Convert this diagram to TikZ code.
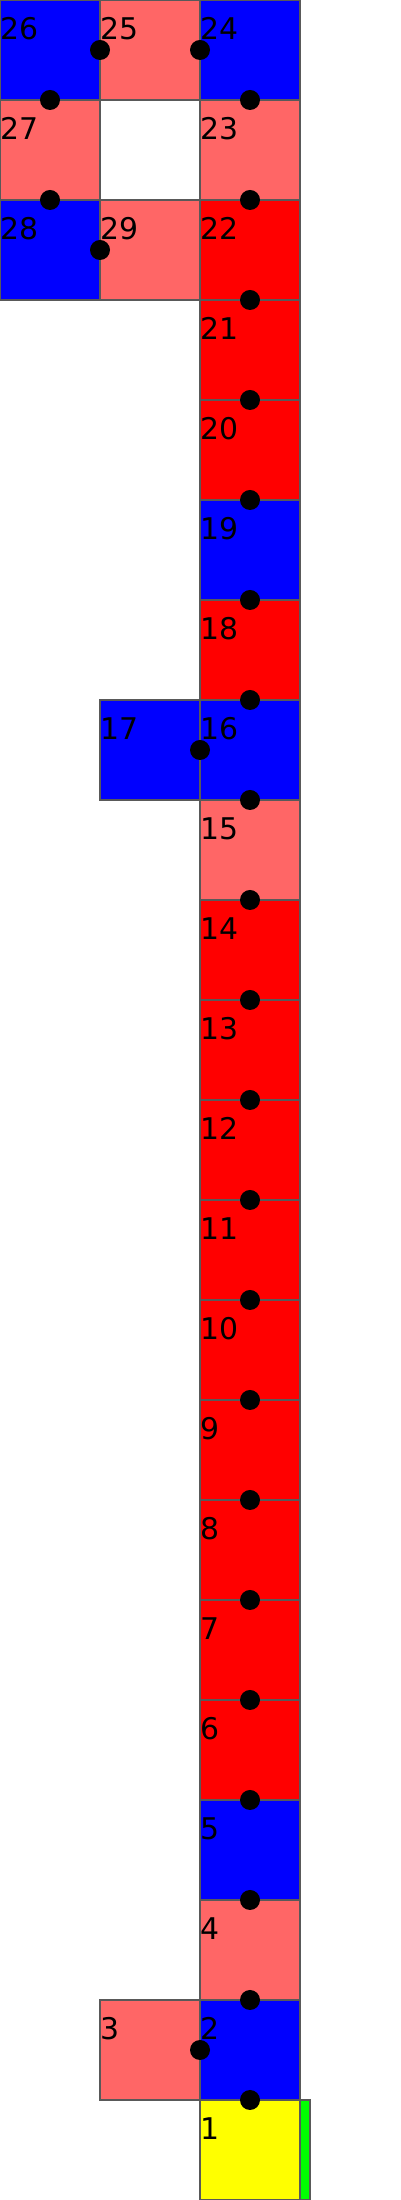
\documentclass[tikz,border=0pt]{standalone}
\usepackage{fontspec}
\setmainfont{DejaVu Sans}
\usepackage{tikz}
\usetikzlibrary{arrows,positioning,shapes}

\definecolor{lightred}{HTML}{FF6666}
\definecolor{cellyellow}{RGB}{255,255,0}
\definecolor{cellgreen}{RGB}{0,255,0}

\begin{document}
\begin{tikzpicture}[
    cell/.style={draw=black!65, line width=0.4pt, rectangle, minimum width=1cm, minimum height=1cm, inner sep=0pt, outer sep=0pt},
    num/.style={anchor=base west, inner sep=0pt, yshift=-4mm, font=\fontsize{8.5}{10}\selectfont},
    joint/.style={circle, fill=black, minimum size=2mm, inner sep=0pt}
]
    \useasboundingbox (0, 0) rectangle (4, 22);

    % Main column
    \node[cell, fill=cellyellow, label={[num]north west:1}] (c1) at (2.5, 0.5) {};
    \node[cell, fill=blue, label={[num]north west:2}] (c2) at (2.5, 1.5) {};
    \node[cell, fill=lightred, label={[num]north west:3}] (c3) at (1.5, 1.5) {};
    \node[cell, fill=lightred, label={[num]north west:4}] (c4) at (2.5, 2.5) {};
    \node[cell, fill=blue, label={[num]north west:5}] (c5) at (2.5, 3.5) {};
    \node[cell, fill=red, label={[num]north west:6}] (c6) at (2.5, 4.5) {};
    \node[cell, fill=red, label={[num]north west:7}] (c7) at (2.5, 5.5) {};
    \node[cell, fill=red, label={[num]north west:8}] (c8) at (2.5, 6.5) {};
    \node[cell, fill=red, label={[num]north west:9}] (c9) at (2.5, 7.5) {};
    \node[cell, fill=red, label={[num]north west:10}] (c10) at (2.5, 8.5) {};
    \node[cell, fill=red, label={[num]north west:11}] (c11) at (2.5, 9.5) {};
    \node[cell, fill=red, label={[num]north west:12}] (c12) at (2.5, 10.5) {};
    \node[cell, fill=red, label={[num]north west:13}] (c13) at (2.5, 11.5) {};
    \node[cell, fill=red, label={[num]north west:14}] (c14) at (2.5, 12.5) {};
    \node[cell, fill=lightred, label={[num]north west:15}] (c15) at (2.5, 13.5) {};
    \node[cell, fill=blue, label={[num]north west:16}] (c16) at (2.5, 14.5) {};
    \node[cell, fill=blue, label={[num]north west:17}] (c17) at (1.5, 14.5) {};
    \node[cell, fill=red, label={[num]north west:18}] (c18) at (2.5, 15.5) {};
    \node[cell, fill=blue, label={[num]north west:19}] (c19) at (2.5, 16.5) {};
    \node[cell, fill=red, label={[num]north west:20}] (c20) at (2.5, 17.5) {};
    \node[cell, fill=red, label={[num]north west:21}] (c21) at (2.5, 18.5) {};
    \node[cell, fill=red, label={[num]north west:22}] (c22) at (2.5, 19.5) {};
    \node[cell, fill=lightred, label={[num]north west:23}] (c23) at (2.5, 20.5) {};

    % Top loop
    \node[cell, fill=blue, label={[num]north west:24}] (c24) at (2.5, 21.5) {};
    \node[cell, fill=lightred, label={[num]north west:25}] (c25) at (1.5, 21.5) {};
    \node[cell, fill=blue, label={[num]north west:26}] (c26) at (0.5, 21.5) {};
    \node[cell, fill=lightred, label={[num]north west:27}] (c27) at (0.5, 20.5) {};
    \node[cell, fill=blue, label={[num]north west:28}] (c28) at (0.5, 19.5) {};
    \node[cell, fill=lightred, label={[num]north west:29}] (c29) at (1.5, 19.5) {};

    % Green bar
    \node[cell, fill=cellgreen, minimum width=1mm] (bar) at (3.05, 0.5) {};

    % Joints
    \node[joint] (j1) at (c1.north) {};
    \node[joint] (j2) at (c2.west) {};
    \node[joint] (j3) at (c2.north) {};
    \node[joint] (j4) at (c4.north) {};
    \node[joint] (j5) at (c5.north) {};
    \node[joint] (j6) at (c6.north) {};
    \node[joint] (j7) at (c7.north) {};
    \node[joint] (j8) at (c8.north) {};
    \node[joint] (j9) at (c9.north) {};
    \node[joint] (j10) at (c10.north) {};
    \node[joint] (j11) at (c11.north) {};
    \node[joint] (j12) at (c12.north) {};
    \node[joint] (j13) at (c13.north) {};
    \node[joint] (j14) at (c14.north) {};
    \node[joint] (j15) at (c15.north) {};
    \node[joint] (j16) at (c16.west) {};
    \node[joint] (j17) at (c16.north) {};
    \node[joint] (j18) at (c18.north) {};
    \node[joint] (j19) at (c19.north) {};
    \node[joint] (j20) at (c20.north) {};
    \node[joint] (j21) at (c21.north) {};
    \node[joint] (j22) at (c22.north) {};
    \node[joint] (j23) at (c23.north) {};
    \node[joint] (j24) at (c24.west) {};
    \node[joint] (j25) at (c25.west) {};
    \node[joint] (j26) at (c26.south) {};
    \node[joint] (j27) at (c27.south) {};
    \node[joint] (j28) at (c28.east) {};
\end{tikzpicture}
\end{document}
